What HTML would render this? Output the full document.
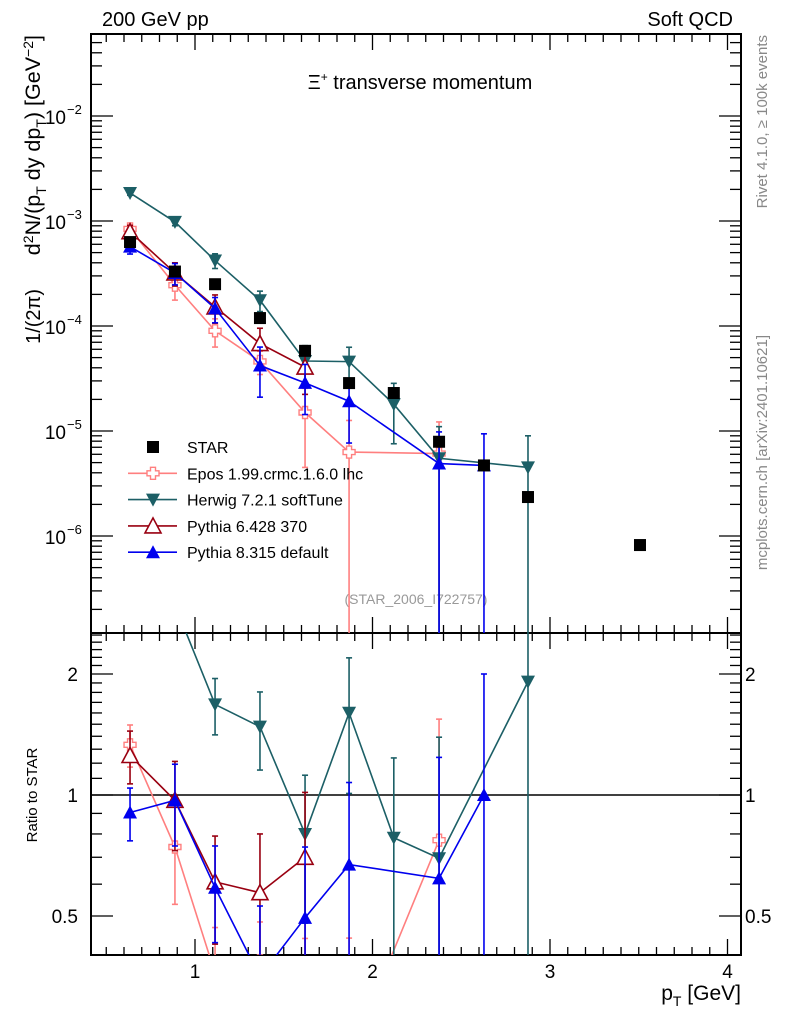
<!DOCTYPE html>
<html><head><meta charset="utf-8"><style>
html,body{margin:0;background:#fff;overflow:hidden;width:786px;height:1024px;}
svg{display:block;font-family:"Liberation Sans",sans-serif;}
</style></head><body>
<svg id="c" width="786" height="1024" viewBox="0 0 786 1024"></svg>
<script>
const pt=[0.634,0.887,1.113,1.366,1.62,1.868,2.12,2.375,2.628,2.876,3.507];
const star=[6.3e-4,3.3e-4,2.5e-4,1.19e-4,5.8e-5,2.86e-5,2.3e-5,7.9e-6,4.7e-6,2.35e-6,8.2e-7];
const epos=[8.4e-4,2.45e-4,9e-5,4.6e-5,1.5e-5,6.3e-6,null,6.1e-6,null,null,null];
const eposErr=[0.12,0.28,0.3,0.25,0.7,1.0,0,1.0,0,0,0];
const herwig=[1.85e-3,9.8e-4,4.2e-4,1.76e-4,4.64e-5,4.58e-5,1.8e-5,5.5e-6,null,4.5e-6,null];
const herwigErr=[0.05,0.08,0.16,0.22,0.4,0.37,0.58,1.0,0,1.0,0];
const py6=[7.9e-4,3.2e-4,1.52e-4,6.8e-5,4.06e-5,null,null,null,null,null,null];
const py6Err=[0.15,0.25,0.3,0.4,0.45,0,0,0,0,0,0];
const py8=[5.7e-4,3.2e-4,1.47e-4,4.2e-5,2.87e-5,1.92e-5,null,4.9e-6,4.7e-6,null,null];
const py8Err=[0.15,0.23,0.27,0.5,0.5,0.6,0,1.0,1.0,0,0];
const xTicks=[1,2,3,4];
const yExps=[-2,-3,-4,-5,-6];
const rTicks=[2,1,0.5];

const NS="http://www.w3.org/2000/svg";
const svg=document.getElementById('c');
const L=91,R=741,T=34,MB=633,RB=955;
const X=v=>195+(v-1)*177.5;
const Y=v=>116-(Math.log10(v)+2)*105;
const RY=r=>795-Math.log2(r)*121;
function el(tag,attrs,parent){const e=document.createElementNS(NS,tag);for(const k in attrs)e.setAttribute(k,attrs[k]);(parent||svg).appendChild(e);return e;}
function txt(s,attrs,parent){const e=el('text',attrs,parent);e.textContent=s;return e;}

const defs=el('defs',{});
const c1=el('clipPath',{id:'cm'},defs);el('rect',{x:L,y:T,width:R-L,height:MB-T},c1);
const c2=el('clipPath',{id:'cr'},defs);el('rect',{x:L,y:MB,width:R-L,height:RB-MB},c2);

const fm=el('rect',{x:L,y:T,width:R-L,height:MB-T,fill:'none',stroke:'#000','stroke-width':2});

const fr=el('rect',{x:L,y:MB,width:R-L,height:RB-MB,fill:'none',stroke:'#000','stroke-width':2});


const tg=el('g',{stroke:'#000','stroke-width':1.3});

for(let i=4;i<=41;i++){const v=i/10;const x=X(v);if(x<L||x>R)continue;const big=(i%10===0);const len=big?16:8;
 [T,MB].forEach(y0=>el('line',{x1:x,x2:x,y1:y0,y2:y0+len},tg));
 [MB,RB].forEach(y0=>el('line',{x1:x,x2:x,y1:y0,y2:y0-len},tg));}
for(let e=-7;e<=-1;e++){for(let m=1;m<=9;m++){const v=m*Math.pow(10,e);const y=Y(v);if(y<T||y>MB)continue;const len=m===1?22:11;
 el('line',{x1:L,x2:L+len,y1:y,y2:y},tg);el('line',{x1:R,x2:R-len,y1:y,y2:y},tg);}}
for(let v=0.4;v<=2.6;v+=0.1){const r=Math.round(v*10)/10;const y=RY(r);if(y<MB||y>RB)continue;const big=(r===0.5||r===1||r===2);const len=big?22:11;
 el('line',{x1:L,x2:L+len,y1:y,y2:y},tg);el('line',{x1:R,x2:R-len,y1:y,y2:y},tg);}

xTicks.forEach(v=>{const t=txt(String(v),{x:X(v),y:978,'font-size':19,'text-anchor':'middle'});
 });
yExps.forEach(e=>{const g=el('g',{});
 txt('10',{x:66,y:Y(Math.pow(10,e))+8,'font-size':19,'text-anchor':'end'},g);
 txt(String(e).replace('-','\u2212'),{x:67,y:Y(Math.pow(10,e))-2,'font-size':13},g);});
rTicks.forEach(r=>{[78,745].forEach((x,i)=>{const t=txt(String(r),{x:x,y:RY(r)+7,'font-size':19,'text-anchor':i?'start':'end'});
 });});

const ul=el('line',{x1:L,x2:R,y1:RY(1),y2:RY(1),stroke:'#000','stroke-width':1.5});


let t;
t=txt('200 GeV pp',{x:102,y:26,'font-size':20});
t=txt('Soft QCD',{x:733,y:26,'font-size':20,'text-anchor':'end'});
t=txt('',{x:420,y:89,'font-size':20,'text-anchor':'middle'});
t.innerHTML='\u039E<tspan dy="-8" font-size="12">+</tspan><tspan dy="8"> transverse momentum</tspan>';
t=txt('(STAR_2006_I722757)',{x:416,y:604,'font-size':14,'text-anchor':'middle',fill:'#999'});
t=txt('Rivet 4.1.0, \u2265 100k events',{x:0,y:0,'font-size':15,fill:'#888','text-anchor':'end',transform:'translate(767,35) rotate(-90)'});

t=txt('mcplots.cern.ch [arXiv:2401.10621]',{x:0,y:0,'font-size':15,fill:'#888','text-anchor':'end',transform:'translate(767,335) rotate(-90)'});

const yt=el('g',{});
t=txt('',{x:0,y:0,'font-size':21.5,'text-anchor':'end',transform:'translate(40,35) rotate(-90)'},yt);
t.innerHTML='d<tspan dy="-7" font-size="14">2</tspan><tspan dy="7">N/(p</tspan><tspan dy="6" font-size="14">T</tspan><tspan dy="-6"> dy dp</tspan><tspan dy="6" font-size="14">T</tspan><tspan dy="-6">) [GeV</tspan><tspan dy="-7" font-size="14">\u22122</tspan><tspan dy="7">]</tspan>';
txt('1/(2\u03C0)',{x:0,y:0,'font-size':20,'text-anchor':'end',transform:'translate(40,289) rotate(-90)'},yt);
t=txt('Ratio to STAR',{x:0,y:0,'font-size':15,'text-anchor':'middle',transform:'translate(37,795) rotate(-90)'});

t=txt('',{x:741,y:1000,'font-size':21,'text-anchor':'end'});
t.innerHTML='p<tspan dy="6" font-size="14">T</tspan><tspan dy="-6"> [GeV]</tspan>';

function marker(kind,color,x,y,g){
 if(kind==='sq')return el('rect',{x:x-6,y:y-6,width:12,height:12,fill:'#000'},g);
 if(kind==='down')return el('polygon',{points:`${x-7},${y-6} ${x+7},${y-6} ${x},${y+7}`,fill:color},g);
 if(kind==='up')return el('polygon',{points:`${x-7},${y+6} ${x+7},${y+6} ${x},${y-7}`,fill:color},g);
 if(kind==='upo')return el('polygon',{points:`${x-8},${y+7} ${x+8},${y+7} ${x},${y-8}`,fill:'#fff',stroke:color,'stroke-width':1.6},g);
 if(kind==='cross')return el('path',{d:`M${x-2.5},${y-6}h5v3.5h3.5v5h-3.5v3.5h-5v-3.5h-3.5v-5h3.5z`,fill:'#fff',stroke:color,'stroke-width':1.4},g);
}
const series=[
 {name:'epos',vals:epos,err:eposErr,color:'#ff7f7f',kind:'cross'},
 {name:'herwig',vals:herwig,err:herwigErr,color:'#1c5f66',kind:'down'},
 {name:'pythia6',vals:py6,err:py6Err,color:'#990011',kind:'upo'},
 {name:'pythia8',vals:py8,err:py8Err,color:'#0000ee',kind:'up'}
];
const mg=el('g',{'clip-path':'url(#cm)'});
const rg=el('g',{'clip-path':'url(#cr)'});
function drawSeries(s,ratio){
 const g=el('g',{},ratio?rg:mg);
 
 
 const pts=[];
 s.vals.forEach((v,i)=>{if(v==null)return;const val=ratio?v/star[i]:v;const yf=ratio?RY:Y;
  const lo=val*(1-s.err[i]),hi=val*(1+s.err[i]);const x=X(pt[i]);
  pts.push([x,yf(val),Math.min(yf(lo>0?lo:1e-12),1100),yf(hi)]);});
 el('polyline',{points:pts.map(p=>p[0]+','+Math.min(p[1],1100)).join(' '),fill:'none',stroke:s.color,'stroke-width':1.6},g);
 pts.forEach(p=>{el('line',{x1:p[0],x2:p[0],y1:p[2],y2:p[3],stroke:s.color,'stroke-width':1.6},g);
  el('line',{x1:p[0]-3,x2:p[0]+3,y1:p[3],y2:p[3],stroke:s.color,'stroke-width':1.6},g);
  if(p[2]<1100)el('line',{x1:p[0]-3,x2:p[0]+3,y1:p[2],y2:p[2],stroke:s.color,'stroke-width':1.6},g);});
 pts.forEach(p=>{if(p[1]>1100)return;const m=marker(s.kind,s.color,p[0],p[1],g);
  
  });
}
series.forEach(s=>drawSeries(s,false));
const sg=el('g',{},mg);
star.forEach((v,i)=>{const m=marker('sq','#000',X(pt[i]),Y(v),sg);
 
 });
series.forEach(s=>drawSeries(s,true));

const lg=el('g',{});
const leg=[['STAR',null],['Epos 1.99.crmc.1.6.0 lhc',series[0]],['Herwig 7.2.1 softTune',series[1]],['Pythia 6.428 370',series[2]],['Pythia 8.315 default',series[3]]];
leg.forEach((l,i)=>{const y=447+i*26.3;const g=el('g',{},lg);
 
 if(l[1]){el('line',{x1:128,x2:177,y1:y,y2:y,stroke:l[1].color,'stroke-width':1.6},g);marker(l[1].kind,l[1].color,153,y,g);}
 else marker('sq','#000',153,y,g);
 txt(l[0],{x:187,y:y+6,'font-size':16},g);});
</script>
</body></html>
